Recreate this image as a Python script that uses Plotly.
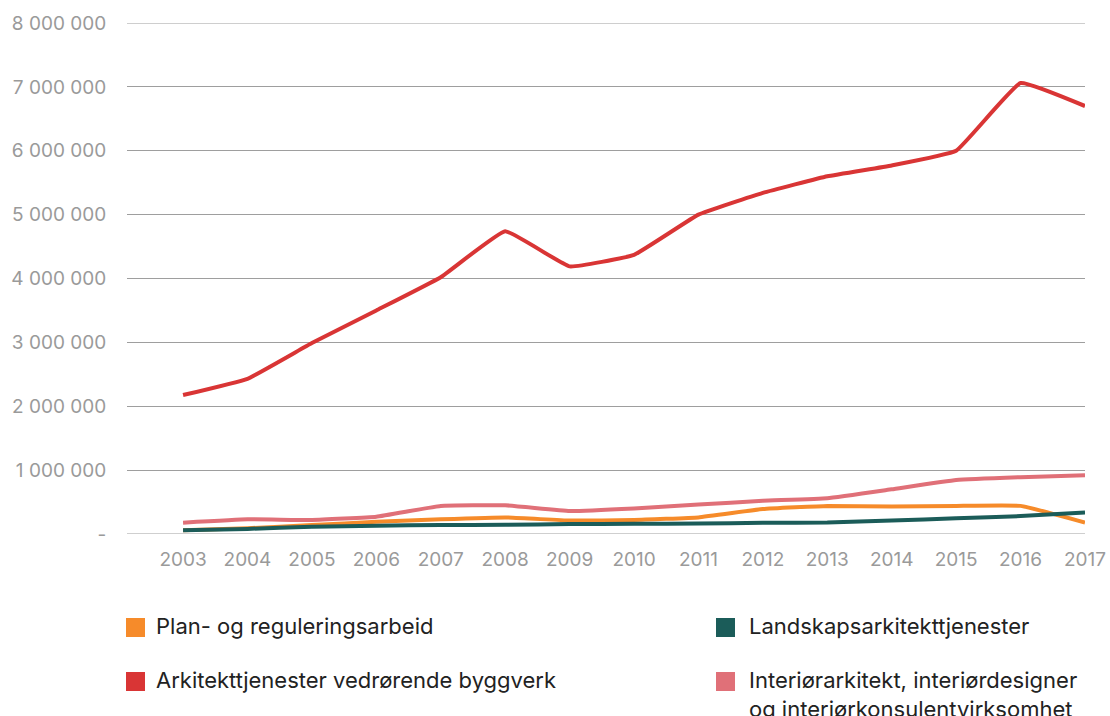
import plotly.graph_objects as go

years = list(range(2003, 2018))

plan = [60000, 90000, 140000, 190000, 230000, 260000, 210000, 220000, 260000, 390000, 440000, 430000, 440000, 440000, 180000]
arkitekt = [2175000, 2430000, 2990000, 3500000, 4020000, 4740000, 4190000, 4370000, 5000000, 5340000, 5600000, 5770000, 6000000, 7060000, 6700000]
landskap = [60000, 80000, 115000, 130000, 140000, 145000, 155000, 160000, 165000, 175000, 180000, 210000, 245000, 280000, 335000]
interior = [177000, 230000, 220000, 270000, 440000, 450000, 360000, 400000, 460000, 520000, 560000, 700000, 845000, 890000, 920000]

series_names = [
    "Plan- og reguleringsarbeid",
    "Arkitekttjenester vedrørende byggverk",
    "Landskapsarkitekttjenester",
    "Interiørarkitekt, interiørdesigner<br>og interiørkonsulentvirksomhet",
]
colors = ["#F68B2A", "#D93535", "#1B5C59", "#E07078"]

y_tickvals = [0, 1000000, 2000000, 3000000, 4000000, 5000000, 6000000, 7000000, 8000000]
y_ticktext = ["-", "1 000 000", "2 000 000", "3 000 000", "4 000 000", "5 000 000", "6 000 000", "7 000 000", "8 000 000"]

FONT = "Inter"
GRID = "#9e9e9e"

# body margin removed via post_script, so page pixels == figure pixels
W, H = 1110, 716
# desired plot box in page pixels
PL, PR, PT, PB = 127, 1085, 23, 534
ml, mr, mt = PL, W - PR, PT
mb = H - PB
pw, ph = W - ml - mr, H - mt - mb

fig = go.Figure()

# edge gridlines (plotly omits grid lines lying on the plot edges)
for v in (y_tickvals[0], y_tickvals[-1]):
    fig.add_shape(type="line", xref="paper", yref="y", x0=0, x1=1, y0=v, y1=v,
                  line=dict(color=GRID, width=1), layer="below")

for vals, idx in [(interior, 3), (plan, 0), (landskap, 2), (arkitekt, 1)]:
    fig.add_trace(go.Scatter(
        x=years, y=vals, mode="lines", name=series_names[idx].replace("<br>", " "),
        line=dict(color=colors[idx], width=4, shape="spline", smoothing=0.3),
        showlegend=False, hoverinfo="x+y",
    ))

fig.update_layout(
    width=W, height=H,
    paper_bgcolor="white", plot_bgcolor="white",
    margin=dict(l=ml, r=mr, t=mt, b=mb, autoexpand=False),
    font=dict(family=FONT, color="#999999", size=19),
    xaxis=dict(
        range=[2002.13, 2017], tickvals=years, ticktext=[str(y) for y in years],
        showgrid=False, zeroline=False, showline=False,
        ticks="outside", ticklen=8, tickcolor="rgba(0,0,0,0)",
        tickfont=dict(family=FONT, size=19, color="#9a9a9a"),
    ),
    yaxis=dict(
        range=[0, 8000000], tickvals=y_tickvals, ticktext=y_ticktext,
        showgrid=True, gridcolor=GRID, gridwidth=1,
        zeroline=False, showline=False,
        ticks="outside", ticklen=16, tickcolor="rgba(0,0,0,0)",
        tickfont=dict(family=FONT, size=19, color="#9a9a9a"),
    ),
)

def px_to_paper(x, y):
    return (x - ml) / pw, (H - mb - y) / ph

# legend built from shapes + annotations, positions in page pixels
legend_pos = [(126, 618), (716, 618), (126, 672), (716, 672)]
text_dx = [28, 31, 28, 31]
legend_order = [0, 2, 1, 3]
for (lx, ly), dx, idx in zip(legend_pos, text_dx, legend_order):
    x0, ytop = px_to_paper(lx, ly)
    x1, ybot = px_to_paper(lx + 19, ly + 19)
    fig.add_shape(type="rect", xref="paper", yref="paper", x0=x0, x1=x1, y0=ybot, y1=ytop,
                  fillcolor=colors[idx], line=dict(width=0))
    tx, ty = px_to_paper(lx + dx, ly - 7)
    fig.add_annotation(xref="paper", yref="paper", x=tx, y=ty, xanchor="left", yanchor="top",
                       text=series_names[idx], showarrow=False, align="left",
                       font=dict(family=FONT, size=22, color="#222222"))

fig.write_html(
    "out.html",
    config={"displayModeBar": False},
    post_script="document.body.style.margin='0';document.body.style.overflow='hidden';",
)
